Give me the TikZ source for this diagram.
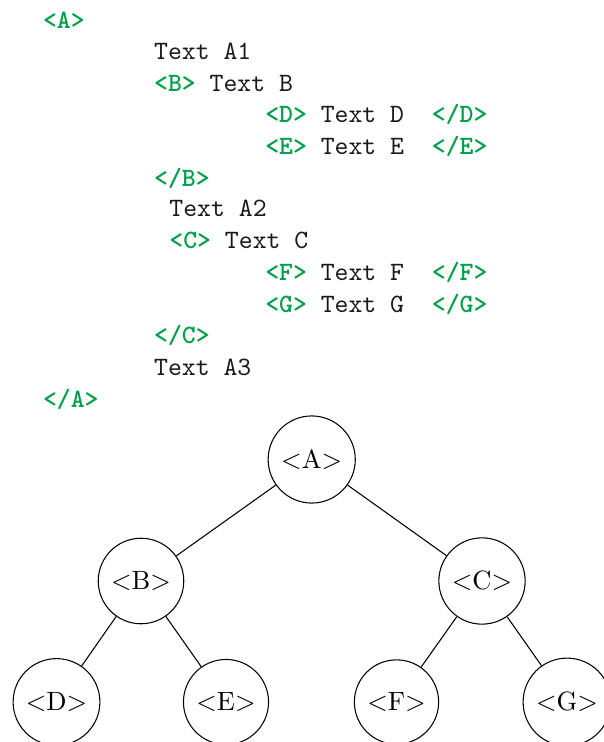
\documentclass[tikz,border=0pt]{standalone}
\usepackage{fontspec}
\usepackage{xcolor}
\definecolor{tagc}{RGB}{0,160,75}
\newcommand{\tg}[1]{\textcolor{tagc}{\bfseries #1}}
\tikzset{
  codeline/.style={anchor=base west, inner sep=0pt, font=\ttfamily\fontsize{10}{12}\selectfont, text=black!90},
  elem/.style={circle, draw, thin, inner sep=0.3333em},
  branch/.style={thin}
}
\begin{document}
\begin{tikzpicture}[x=0.378pt, y=-0.378pt]
  \useasboundingbox (0,0) rectangle (604,742);
  % columns of the listing: one character is 13.89 units wide
  \def\cz{42.5}
  \def\cw{13.89}
  \def\lh{31.56}
  \def\lt{28.3}
  \node[codeline] (l0)  at (\cz+0*\cw,  \lt+0*\lh)  {\tg{<A>}};
  \node[codeline] (l1)  at (\cz+8*\cw,  \lt+1*\lh)  {Text~A1};
  \node[codeline] (l2)  at (\cz+8*\cw,  \lt+2*\lh)  {\tg{<B>}~Text~B};
  \node[codeline] (l3)  at (\cz+16*\cw, \lt+3*\lh)  {\tg{<D>}~Text~D~~\tg{</D>}};
  \node[codeline] (l4)  at (\cz+16*\cw, \lt+4*\lh)  {\tg{<E>}~Text~E~~\tg{</E>}};
  \node[codeline] (l5)  at (\cz+8*\cw,  \lt+5*\lh)  {\tg{</B>}};
  \node[codeline] (l6)  at (\cz+9.1*\cw, \lt+6*\lh-1.5) {Text~A2};
  \node[codeline] (l7)  at (\cz+9.1*\cw, \lt+7*\lh-1) {\tg{<C>}~Text~C};
  \node[codeline] (l8)  at (\cz+16*\cw, \lt+8*\lh)  {\tg{<F>}~Text~F~~\tg{</F>}};
  \node[codeline] (l9)  at (\cz+16*\cw, \lt+9*\lh)  {\tg{<G>}~Text~G~~\tg{</G>}};
  \node[codeline] (l10) at (\cz+8*\cw,  \lt+10*\lh) {\tg{</C>}};
  \node[codeline] (l11) at (\cz+8*\cw,  \lt+11*\lh) {Text~A3};
  \node[codeline] (l12) at (\cz+0*\cw,  \lt+12*\lh) {\tg{</A>}};

  % the element tree
  \node[elem] (A) at (311.7,459.5) {$<$A$>$};
  \node[elem] (B) at (141,581)     {$<$B$>$};
  \node[elem] (C) at (482,581)     {$<$C$>$};
  \node[elem] (D) at (56.5,702)    {$<$D$>$};
  \node[elem] (E) at (226,702)     {$<$E$>$};
  \node[elem] (F) at (396.5,702)   {$<$F$>$};
  \node[elem] (G) at (567,702)     {$<$G$>$};
  \draw[branch] (A) -- (B);
  \draw[branch] (A) -- (C);
  \draw[branch] (B) -- (D);
  \draw[branch] (B) -- (E);
  \draw[branch] (C) -- (F);
  \draw[branch] (C) -- (G);
\end{tikzpicture}
\end{document}
